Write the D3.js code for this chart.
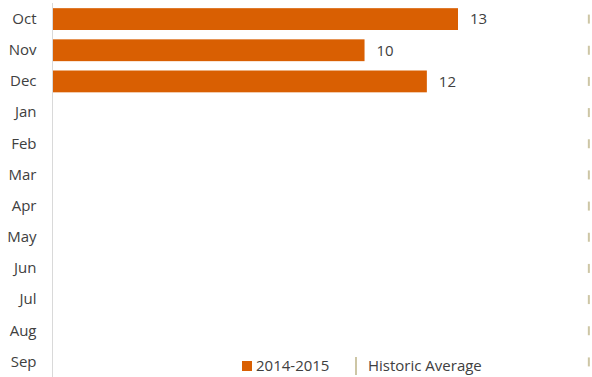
<!DOCTYPE html>
<html>
<head>
<meta charset="utf-8">
<script src="https://cdn.jsdelivr.net/npm/d3@7"></script>
<style>
  html, body { margin: 0; padding: 0; background: #fff; }
  svg text { font-family: "Open Sans", "Liberation Sans", sans-serif; }
</style>
</head>
<body>
<svg id="chart" width="592" height="377"></svg>
<script>
// Months of the season, October through September
const months = ["Oct", "Nov", "Dec", "Jan", "Feb", "Mar", "Apr", "May", "Jun", "Jul", "Aug", "Sep"];
// 2014-2015 season counts (only months reported so far)
const season2014 = [13, 10, 12, null, null, null, null, null, null, null, null, null];
// Historic average per month
const historicAvg = [17.2, 17.2, 17.2, 17.2, 17.2, 17.2, 17.2, 17.2, 17.2, 17.2, 17.2, 17.2];
const legendLabels = ["2014-2015", "Historic Average"];

const barColor = "#d95f02";
const avgColor = "#cdc6a5";
const textColor = "#404040";
const fontSize = "15px";

const svg = d3.select("#chart");

const x = d3.scaleLinear().domain([0, 13]).range([53, 458]);
const y = d3.scaleBand().domain(months).range([3.5, 377.5]).paddingInner(0.3).paddingOuter(0.15);

// Category axis
const yAxis = d3.axisLeft(y).tickSize(0).tickPadding(16);
const ag = svg.append("g").attr("transform", "translate(52.5,0)").call(yAxis);
ag.select(".domain").attr("stroke", "#d9d9d9").attr("d", "M0,3V377");
ag.selectAll("text")
  .attr("fill", textColor)
  .style("font-size", fontSize)
  .style("font-family", "'Open Sans', sans-serif");

// Bars
const rows = months.map((m, i) => ({ m, v: season2014[i], h: historicAvg[i] }));
svg.append("g").selectAll("rect")
  .data(rows.filter(d => d.v != null))
  .join("rect")
  .attr("x", x(0))
  .attr("y", d => y(d.m))
  .attr("width", d => x(d.v) - x(0))
  .attr("height", y.bandwidth())
  .attr("fill", barColor);

// Value labels
svg.append("g").selectAll("text")
  .data(rows.filter(d => d.v != null))
  .join("text")
  .attr("x", d => x(d.v) + 12)
  .attr("y", d => y(d.m) + y.bandwidth() / 2)
  .attr("dy", "0.36em")
  .attr("fill", textColor)
  .style("font-size", fontSize)
  .text(d => d.v);

// Historic average markers
svg.append("g").selectAll("rect")
  .data(rows)
  .join("rect")
  .attr("x", d => x(d.h) - 1)
  .attr("y", d => y(d.m) + y.bandwidth() / 2 - 4.5)
  .attr("width", 2)
  .attr("height", 9)
  .attr("fill", avgColor);

// Legend
const lg = svg.append("g");
lg.append("rect").attr("x", 242).attr("y", 361).attr("width", 10).attr("height", 10).attr("fill", barColor);
lg.append("text").attr("x", 256).attr("y", 371).attr("fill", textColor).style("font-size", fontSize).text(legendLabels[0]);
lg.append("rect").attr("x", 355).attr("y", 357).attr("width", 2).attr("height", 18).attr("fill", avgColor);
lg.append("text").attr("x", 368).attr("y", 371).attr("fill", textColor).style("font-size", fontSize).text(legendLabels[1]);
</script>
</body>
</html>
